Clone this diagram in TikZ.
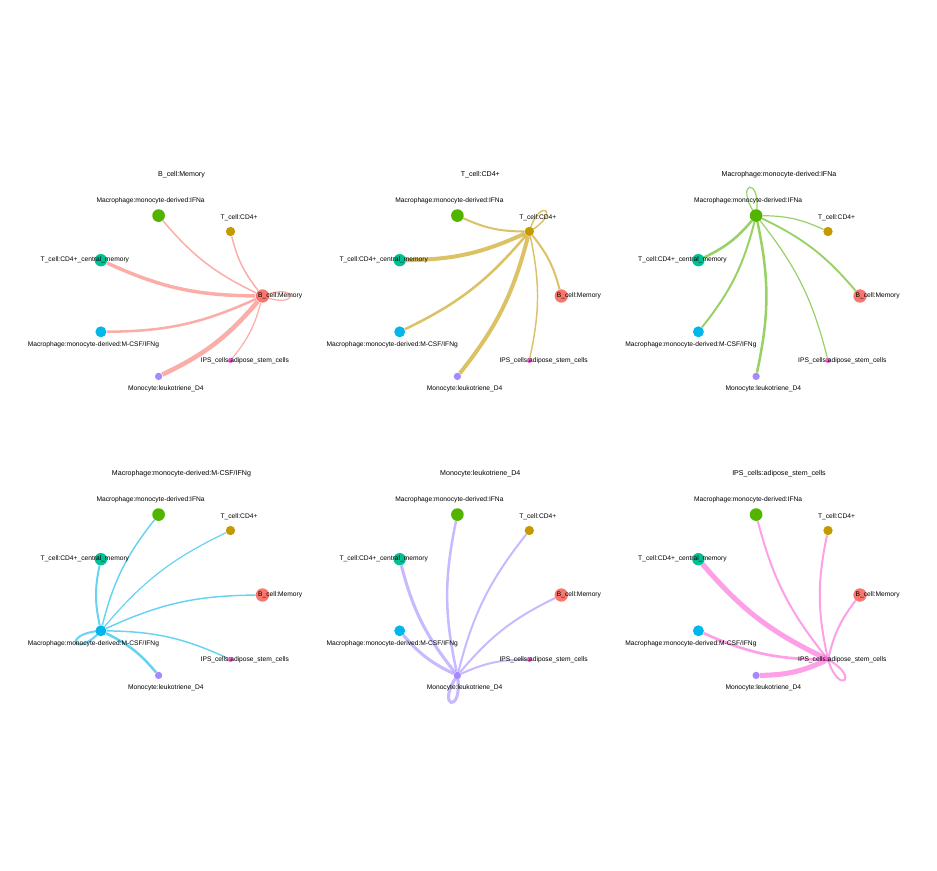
\documentclass[tikz,border=0pt]{standalone}
\usepackage{fontspec}
\setmainfont{Liberation Sans}
\usetikzlibrary{backgrounds}

\definecolor{cbm}{HTML}{F8766D}
\definecolor{ccd}{HTML}{C49A00}
\definecolor{cifn}{HTML}{53B400}
\definecolor{ccm}{HTML}{00C094}
\definecolor{ccsf}{HTML}{00B6EB}
\definecolor{cmono}{HTML}{A58AFF}
\definecolor{cips}{HTML}{FB61D7}

\tikzset{every picture/.style={line width=0.75pt}}
\tikzset{
  cell/.style 2 args={circle, fill=#1, inner sep=0pt, minimum size=#2},
  lbl/.style={inner sep=0.75pt, font=\fontsize{5}{6}\selectfont},
  ttl/.style={inner sep=0.75pt, font=\fontsize{5.3}{6.3}\selectfont},
  flow/.style={draw=#1, draw opacity=0.6, bend right=12},
}

\begin{document}
\begin{tikzpicture}[x=0.75pt,y=0.75pt,yscale=-1,xscale=1]
\useasboundingbox (0,0) rectangle (937,870);

%%% Panel B_cell:Memory
\node[cell={cbm}{10pt}] (bm1) at (262.5,296) {};
\node[cell={ccd}{7pt}] (cd1) at (230.5,231.5) {};
\node[cell={cifn}{9.5pt}] (ifn1) at (158.6,215.6) {};
\node[cell={ccm}{9.3pt}] (cm1) at (100.9,260.2) {};
\node[cell={ccsf}{8.2pt}] (csf1) at (100.9,331.8) {};
\node[cell={cmono}{5.5pt}] (mono1) at (158.6,376.4) {};
\node[cell={cips}{3.8pt}] (ips1) at (230.5,360.5) {};
\begin{pgfonlayer}{background}
\draw[flow=cbm, line width=1.1pt] (bm1) to (ifn1);
\draw[flow=cbm, line width=1.1pt] (bm1) to (cd1);
\draw[flow=cbm, line width=2.6pt] (bm1) to (cm1);
\draw[flow=cbm, line width=1.9pt] (bm1) to (csf1);
\draw[flow=cbm, line width=3.4pt] (bm1) to (mono1);
\draw[flow=cbm, line width=0.9pt] (bm1) to (ips1);
\draw[flow=cbm, line width=0.9pt] (bm1.center) .. controls +(22:40) and +(-22:40) .. (bm1.center);
\end{pgfonlayer}
% Text Node
\node[ttl] (t1) at (181.5,175) {B\_cell:Memory};
\node[lbl] (lbm1) at (280.2,296) {B\_cell:Memory};
\node[lbl] (lcd1) at (239,218) {T\_cell:CD4+};
\node[lbl] (lifn1) at (150.6,201.1) {Macrophage:monocyte-derived:IFNa};
\node[lbl] (lcm1) at (84.9,260.2) {T\_cell:CD4+\_central\_memory};
\node[lbl] (lcsf1) at (93.4,344.3) {Macrophage:monocyte-derived:M-CSF/IFNg};
\node[lbl] (lmono1) at (165.8,388.3) {Monocyte:leukotriene\_D4};
\node[lbl] (lips1) at (244.8,360.5) {IPS\_cells:adipose\_stem\_cells};

%%% Panel T_cell:CD4+
\node[cell={cbm}{10pt}] (bm2) at (561.3,296) {};
\node[cell={ccd}{7pt}] (cd2) at (529.3,231.5) {};
\node[cell={cifn}{9.5pt}] (ifn2) at (457.4,215.6) {};
\node[cell={ccm}{9.3pt}] (cm2) at (399.7,260.2) {};
\node[cell={ccsf}{8.2pt}] (csf2) at (399.7,331.8) {};
\node[cell={cmono}{5.5pt}] (mono2) at (457.4,376.4) {};
\node[cell={cips}{3.8pt}] (ips2) at (529.3,360.5) {};
\begin{pgfonlayer}{background}
\draw[flow=ccd, line width=1.5pt] (cd2) to (ifn2);
\draw[flow=ccd, line width=3pt] (cd2) to (cm2);
\draw[flow=ccd, line width=1.9pt] (cd2) to (csf2);
\draw[flow=ccd, line width=3pt] (cd2) to (mono2);
\draw[flow=ccd, line width=1.1pt] (cd2) to (ips2);
\draw[flow=ccd, line width=1.5pt] (cd2) to (bm2);
\draw[flow=ccd, line width=1.1pt] (cd2.center) .. controls +(-29.4:38) and +(-73.4:38) .. (cd2.center);
\end{pgfonlayer}
% Text Node
\node[ttl] (t2) at (480.3,175) {T\_cell:CD4+};
\node[lbl] (lbm2) at (579,296) {B\_cell:Memory};
\node[lbl] (lcd2) at (537.8,218) {T\_cell:CD4+};
\node[lbl] (lifn2) at (449.4,201.1) {Macrophage:monocyte-derived:IFNa};
\node[lbl] (lcm2) at (383.7,260.2) {T\_cell:CD4+\_central\_memory};
\node[lbl] (lcsf2) at (392.2,344.3) {Macrophage:monocyte-derived:M-CSF/IFNg};
\node[lbl] (lmono2) at (464.6,388.3) {Monocyte:leukotriene\_D4};
\node[lbl] (lips2) at (543.6,360.5) {IPS\_cells:adipose\_stem\_cells};

%%% Panel Macrophage:monocyte-derived:IFNa
\node[cell={cbm}{10pt}] (bm3) at (860,296) {};
\node[cell={ccd}{7pt}] (cd3) at (828,231.5) {};
\node[cell={cifn}{9.5pt}] (ifn3) at (756.1,215.6) {};
\node[cell={ccm}{9.3pt}] (cm3) at (698.4,260.2) {};
\node[cell={ccsf}{8.2pt}] (csf3) at (698.4,331.8) {};
\node[cell={cmono}{5.5pt}] (mono3) at (756.1,376.4) {};
\node[cell={cips}{3.8pt}] (ips3) at (828,360.5) {};
\begin{pgfonlayer}{background}
\draw[flow=cifn, line width=0.9pt] (ifn3) to (cd3);
\draw[flow=cifn, line width=1.4pt] (ifn3) to (bm3);
\draw[flow=cifn, line width=0.9pt] (ifn3) to (ips3);
\draw[flow=cifn, line width=1.9pt] (ifn3) to (mono3);
\draw[flow=cifn, line width=1.5pt] (ifn3) to (csf3);
\draw[flow=cifn, line width=1.9pt] (ifn3) to (cm3);
\draw[flow=cifn, line width=0.9pt] (ifn3.center) .. controls +(-80.9:42) and +(-124.9:42) .. (ifn3.center);
\end{pgfonlayer}
% Text Node
\node[ttl] (t3) at (779,175) {Macrophage:monocyte-derived:IFNa};
\node[lbl] (lbm3) at (877.7,296) {B\_cell:Memory};
\node[lbl] (lcd3) at (836.5,218) {T\_cell:CD4+};
\node[lbl] (lifn3) at (748.1,201.1) {Macrophage:monocyte-derived:IFNa};
\node[lbl] (lcm3) at (682.4,260.2) {T\_cell:CD4+\_central\_memory};
\node[lbl] (lcsf3) at (690.9,344.3) {Macrophage:monocyte-derived:M-CSF/IFNg};
\node[lbl] (lmono3) at (763.3,388.3) {Monocyte:leukotriene\_D4};
\node[lbl] (lips3) at (842.3,360.5) {IPS\_cells:adipose\_stem\_cells};

%%% Panel Macrophage:monocyte-derived:M-CSF/IFNg
\node[cell={cbm}{10pt}] (bm4) at (262.5,595) {};
\node[cell={ccd}{7pt}] (cd4) at (230.5,530.5) {};
\node[cell={cifn}{9.5pt}] (ifn4) at (158.6,514.6) {};
\node[cell={ccm}{9.3pt}] (cm4) at (100.9,559.2) {};
\node[cell={ccsf}{8.2pt}] (csf4) at (100.9,630.8) {};
\node[cell={cmono}{5.5pt}] (mono4) at (158.6,675.4) {};
\node[cell={cips}{3.8pt}] (ips4) at (230.5,659.5) {};
\begin{pgfonlayer}{background}
\draw[flow=ccsf, line width=1.5pt] (csf4) to (cm4);
\draw[flow=ccsf, line width=1.1pt] (csf4) to (ifn4);
\draw[flow=ccsf, line width=0.9pt] (csf4) to (cd4);
\draw[flow=ccsf, line width=1.1pt] (csf4) to (bm4);
\draw[flow=ccsf, line width=1.1pt] (csf4) to (ips4);
\draw[flow=ccsf, line width=1.9pt] (csf4) to (mono4);
\draw[flow=ccsf, line width=1.5pt] (csf4.center) .. controls +(176.3:40) and +(132.3:40) .. (csf4.center);
\end{pgfonlayer}
% Text Node
\node[ttl] (t4) at (181.5,474) {Macrophage:monocyte-derived:M-CSF/IFNg};
\node[lbl] (lbm4) at (280.2,595) {B\_cell:Memory};
\node[lbl] (lcd4) at (239,517) {T\_cell:CD4+};
\node[lbl] (lifn4) at (150.6,500.1) {Macrophage:monocyte-derived:IFNa};
\node[lbl] (lcm4) at (84.9,559.2) {T\_cell:CD4+\_central\_memory};
\node[lbl] (lcsf4) at (93.4,643.3) {Macrophage:monocyte-derived:M-CSF/IFNg};
\node[lbl] (lmono4) at (165.8,687.3) {Monocyte:leukotriene\_D4};
\node[lbl] (lips4) at (244.8,659.5) {IPS\_cells:adipose\_stem\_cells};

%%% Panel Monocyte:leukotriene_D4
\node[cell={cbm}{10pt}] (bm5) at (561.3,595) {};
\node[cell={ccd}{7pt}] (cd5) at (529.3,530.5) {};
\node[cell={cifn}{9.5pt}] (ifn5) at (457.4,514.6) {};
\node[cell={ccm}{9.3pt}] (cm5) at (399.7,559.2) {};
\node[cell={ccsf}{8.2pt}] (csf5) at (399.7,630.8) {};
\node[cell={cmono}{5.5pt}] (mono5) at (457.4,675.4) {};
\node[cell={cips}{3.8pt}] (ips5) at (529.3,659.5) {};
\begin{pgfonlayer}{background}
\draw[flow=cmono, line width=2.3pt] (mono5) to (cm5);
\draw[flow=cmono, line width=1.9pt] (mono5) to (ifn5);
\draw[flow=cmono, line width=1.5pt] (mono5) to (cd5);
\draw[flow=cmono, line width=1.5pt] (mono5) to (bm5);
\draw[flow=cmono, line width=1.5pt] (mono5) to (ips5);
\draw[flow=cmono, line width=2.3pt] (mono5) to (csf5);
\draw[flow=cmono, line width=2.3pt] (mono5.center) .. controls +(124.9:40) and +(80.9:40) .. (mono5.center);
\end{pgfonlayer}
% Text Node
\node[ttl] (t5) at (480.3,474) {Monocyte:leukotriene\_D4};
\node[lbl] (lbm5) at (579,595) {B\_cell:Memory};
\node[lbl] (lcd5) at (537.8,517) {T\_cell:CD4+};
\node[lbl] (lifn5) at (449.4,500.1) {Macrophage:monocyte-derived:IFNa};
\node[lbl] (lcm5) at (383.7,559.2) {T\_cell:CD4+\_central\_memory};
\node[lbl] (lcsf5) at (392.2,643.3) {Macrophage:monocyte-derived:M-CSF/IFNg};
\node[lbl] (lmono5) at (464.6,687.3) {Monocyte:leukotriene\_D4};
\node[lbl] (lips5) at (543.6,659.5) {IPS\_cells:adipose\_stem\_cells};

%%% Panel IPS_cells:adipose_stem_cells
\node[cell={cbm}{10pt}] (bm6) at (860,595) {};
\node[cell={ccd}{7pt}] (cd6) at (828,530.5) {};
\node[cell={cifn}{9.5pt}] (ifn6) at (756.1,514.6) {};
\node[cell={ccm}{9.3pt}] (cm6) at (698.4,559.2) {};
\node[cell={ccsf}{8.2pt}] (csf6) at (698.4,630.8) {};
\node[cell={cmono}{5.5pt}] (mono6) at (756.1,675.4) {};
\node[cell={cips}{3.8pt}] (ips6) at (828,659.5) {};
\begin{pgfonlayer}{background}
\draw[flow=cips, line width=3.8pt] (ips6) to (cm6);
\draw[flow=cips, line width=1.5pt] (ips6) to (ifn6);
\draw[flow=cips, line width=1.5pt] (ips6) to (cd6);
\draw[flow=cips, line width=1.5pt] (ips6) to (bm6);
\draw[flow=cips, line width=2pt] (ips6) to (csf6);
\draw[flow=cips, line width=3.8pt] (ips6) to (mono6);
\draw[flow=cips, line width=1.5pt] (ips6.center) .. controls +(73.4:38) and +(29.4:38) .. (ips6.center);
\end{pgfonlayer}
% Text Node
\node[ttl] (t6) at (779,474) {IPS\_cells:adipose\_stem\_cells};
\node[lbl] (lbm6) at (877.7,595) {B\_cell:Memory};
\node[lbl] (lcd6) at (836.5,517) {T\_cell:CD4+};
\node[lbl] (lifn6) at (748.1,500.1) {Macrophage:monocyte-derived:IFNa};
\node[lbl] (lcm6) at (682.4,559.2) {T\_cell:CD4+\_central\_memory};
\node[lbl] (lcsf6) at (690.9,643.3) {Macrophage:monocyte-derived:M-CSF/IFNg};
\node[lbl] (lmono6) at (763.3,687.3) {Monocyte:leukotriene\_D4};
\node[lbl] (lips6) at (842.3,659.5) {IPS\_cells:adipose\_stem\_cells};

\end{tikzpicture}
\end{document}
